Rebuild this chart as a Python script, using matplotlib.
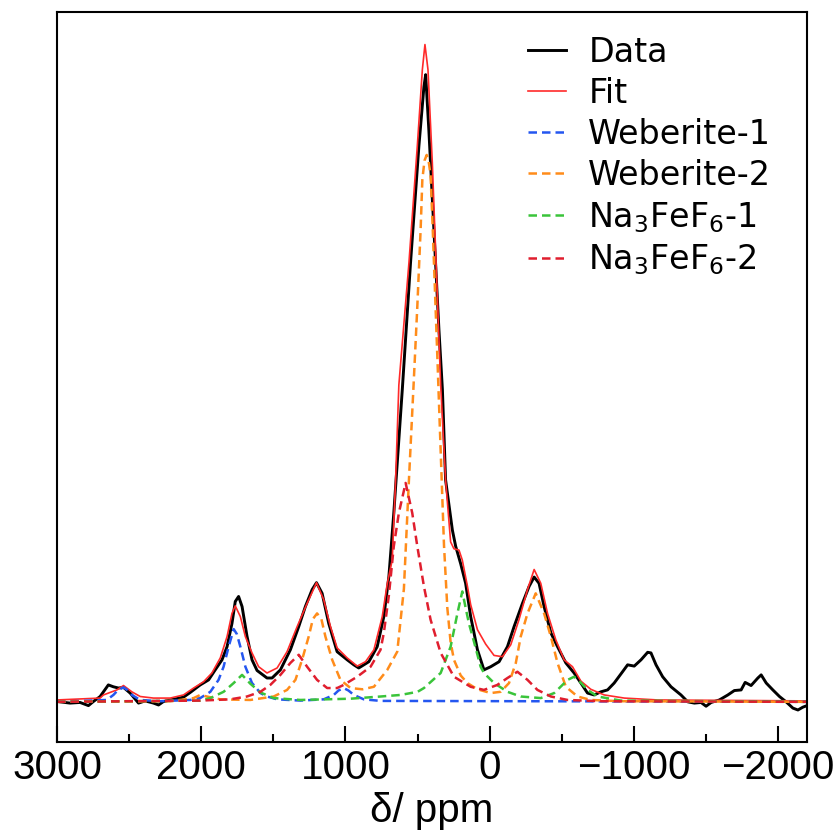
import matplotlib
matplotlib.use("Agg")
import matplotlib.pyplot as plt

# spectrum: shift in ppm, intensity scaled so the main data peak = 100
data_ppm = [3000, 2979, 2910, 2840, 2782, 2748, 2701, 2644, 2609, 2574,
            2539, 2493, 2435, 2389, 2331, 2296, 2262, 2192, 2123, 2076,
            2007, 1949, 1903, 1856, 1821, 1787, 1764, 1741, 1717, 1683,
            1648, 1613, 1544, 1509, 1451, 1382, 1324, 1278, 1231, 1201,
            1162, 1116, 1058, 988, 942, 908, 838, 780, 734, 699,
            665, 606, 549, 491, 456, 444, 422, 387, 352, 328,
            306, 259, 236, 201, 167, 132, 85, 40, -7, -65,
            -123, -169, -227, -273, -308, -342, -377, -424, -470, -528,
            -585, -632, -678, -724, -771, -817, -863, -921, -956, -1002,
            -1049, -1095, -1118, -1153, -1199, -1257, -1326, -1373, -1419, -1465,
            -1500, -1535, -1592, -1651, -1696, -1743, -1771, -1812, -1859, -1882,
            -1917, -1963, -2009, -2055, -2102, -2137, -2171, -2200]
data_int = [0.1, 0, -0.2, -0.1, -0.6, 0.05, 0.85, 2.7, 2.4, 2.2,
            2.3, 1.4, -0.2, 0.15, -0.2, -0.5, 0.05, 0.4, 0.75, 1.5,
            2.7, 3.5, 5.1, 6.7, 8.8, 12.5, 16.0, 16.8, 15.2, 10.5,
            6.7, 5.0, 3.8, 3.8, 5.1, 8.3, 12.0, 15.2, 17.9, 19.0,
            17.3, 12.5, 8.0, 6.7, 5.9, 5.4, 6.4, 8.8, 13.6, 20.0,
            30.1, 49.8, 70.0, 88.6, 98.1, 100.0, 91.2, 75.3, 59.3, 49.8,
            35.4, 27.4, 24.8, 22.0, 18.9, 13.6, 8.3, 5.1, 5.6, 6.4,
            8.8, 12.0, 15.7, 18.4, 19.9, 18.9, 15.2, 11.0, 8.8, 6.2,
            4.6, 3.0, 1.4, 1.1, 1.6, 1.9, 3.0, 4.8, 5.9, 5.7,
            6.7, 7.9, 7.8, 5.9, 4.0, 2.4, 1.1, 0, -0.2, -0.1,
            -0.7, -0.1, 0.3, 1.1, 1.8, 1.9, 3.1, 2.6, 3.8, 4.3,
            3.0, 1.9, 0.85, 0, -1.0, -1.3, -0.85, -0.6]

fit_ppm = [3000, 2701, 2678, 2585, 2539, 2481, 2423, 2331, 2215, 2123,
           2053, 1984, 1926, 1868, 1821, 1787, 1764, 1729, 1694, 1648,
           1602, 1544, 1474, 1405, 1335, 1266, 1201, 1151, 1104, 1058,
           988, 919, 861, 803, 745, 710, 676, 653, 630, 560,
           502, 467, 449, 428, 398, 363, 340, 306, 271, 248,
           213, 190, 155, 132, 85, 28, -30, -88, -146, -203,
           -262, -308, -354, -401, -458, -516, -574, -632, -701, -794,
           -933, -1165, -2200]
fit_int = [0.3, 0.6, 1.1, 1.9, 2.6, 1.6, 0.85, 0.6, 0.6, 1.1,
           2.2, 3.2, 4.6, 7.0, 10.4, 14.1, 15.3, 13.6, 10.4, 7.8,
           5.6, 4.6, 5.4, 8.0, 12.0, 15.7, 19.0, 16.3, 12.0, 8.6,
           7.0, 5.7, 6.4, 8.3, 13.6, 18.9, 22.6, 35.0, 50.5, 70.0,
           88.6, 100.8, 104.8, 100.8, 86.0, 64.6, 50.5, 35.4, 25.5, 24.4,
           24.2, 22.6, 18.5, 15.5, 11.5, 9.2, 7.4, 7.2, 9.1, 13.1,
           17.9, 21.1, 18.9, 14.1, 9.9, 6.7, 5.6, 3.3, 2.0, 1.1,
           0.6, 0.3, 0.15]

web1_ppm = [3000, 2655, 2609, 2576, 2539, 2513, 2481, 2423, 2285, 2076,
            2007, 1937, 1880, 1845, 1810, 1775, 1753, 1729, 1694, 1648,
            1625, 1590, 1544, 1474, 1312, 1151, 1081, 1049, 1012, 979,
            942, 873, 757, -2200]
web1_int = [0, 0.3, 1.1, 1.9, 2.3, 1.9, 1.1, 0.3, 0.1, 0.3,
            0.6, 1.6, 3.5, 5.6, 8.8, 11.6, 10.8, 8.8, 5.6, 3.0,
            2.4, 1.4, 0.85, 0.4, 0.2, 0.4, 1.1, 1.8, 2.2, 1.8,
            1.1, 0.4, 0.15, 0]

web2_ppm = [3000, 2215, 2111, 2053, 2007, 1951, 1868, 1660, 1498, 1405,
            1347, 1301, 1255, 1226, 1197, 1167, 1139, 1092, 1035, 965,
            882, 803, 710, 641, 595, 560, 526, 502, 479, 467,
            452, 437, 424, 410, 396, 363, 340, 317, 294, 271,
            248, 201, 155, 85, -7, -76, -134, -181, -215, -262,
            -319, -377, -424, -470, -528, -609, -701, -910, -2200]
web2_int = [0, 0.1, 0.4, 0.6, 1.1, 0.8, 0.4, 0.3, 0.85, 1.9,
            3.5, 6.7, 10.4, 13.2, 14.1, 13.2, 10.4, 6.7, 3.5, 2.2,
            2.0, 2.4, 5.1, 8.0, 18.0, 35.4, 51.4, 63.0, 75.3, 83.3,
            86.3, 87.2, 86.3, 84.0, 76.0, 55.0, 40.0, 25.0, 15.0, 9.5,
            6.7, 4.2, 3.0, 2.0, 1.4, 1.6, 3.0, 6.2, 10.4, 14.1,
            17.3, 14.1, 10.4, 6.2, 2.4, 0.85, 0.3, 0.1, 0]

na1_ppm = [3000, 2007, 1937, 1845, 1775, 1717, 1660, 1590, 1498, 1312,
           965, 757, 618, 500, 456, 340, 271, 224, 190, 167,
           144, 108, 85, 63, 40, -30, -123, -215, -354, -447,
           -540, -585, -618, -678, -748, -910, -2200]
na1_int = [0, 0.2, 0.6, 1.6, 3.0, 4.3, 2.9, 1.5, 0.6, 0.3,
           0.5, 0.85, 1.1, 1.6, 2.2, 4.6, 8.8, 14.1, 17.6, 15.0,
           12.5, 9.5, 7.5, 5.6, 4.6, 3.0, 1.6, 0.85, 0.6, 1.4,
           3.5, 4.0, 3.4, 1.9, 0.85, 0.2, 0]

na2_ppm = [3000, 2007, 1799, 1683, 1590, 1521, 1451, 1382, 1324, 1266,
           1197, 1127, 1058, 1012, 919, 826, 757, 734, 699, 665,
           630, 583, 537, 502, 456, 410, 340, 248, 132, 40,
           -53, -123, -192, -262, -331, -424, -540, -771, -2200]
na2_int = [0, 0.2, 0.4, 0.85, 1.6, 2.7, 4.3, 6.2, 7.5, 5.6,
           3.5, 2.2, 2.2, 2.7, 4.0, 5.6, 8.3, 11.0, 17.0, 24.8,
           30.1, 34.9, 30.1, 24.8, 18.4, 13.1, 7.8, 4.0, 2.4, 1.9,
           2.7, 3.8, 4.8, 3.5, 1.9, 0.85, 0.3, 0.1, 0]

labels = ["Data", "Fit", "Weberite-1", "Weberite-2",
          "Na$_3$FeF$_6$-1", "Na$_3$FeF$_6$-2"]

fig = plt.figure(figsize=(8.37, 8.35), dpi=100)
ax = fig.add_axes([0.0681, 0.1114, 0.8961, 0.8743])

dash = (0, (3.4, 2.0))
ax.plot(data_ppm, data_int, color="black", lw=2.1, label=labels[0])
ax.plot(fit_ppm, fit_int, color="#ff2a2a", lw=1.2, label=labels[1])
ax.plot(web1_ppm, web1_int, color="#2456f0", lw=1.8, ls=dash, label=labels[2])
ax.plot(web2_ppm, web2_int, color="#ff8c1a", lw=1.8, ls=dash, label=labels[3])
ax.plot(na1_ppm, na1_int, color="#3ac43a", lw=1.8, ls=dash, label=labels[4])
ax.plot(na2_ppm, na2_int, color="#e01e2e", lw=1.8, ls=dash, label=labels[5])

ax.set_xlim(3000, -2200)
ax.set_ylim(-6.4, 110)
ax.set_xticks([3000, 2000, 1000, 0, -1000, -2000])
ax.set_xticks([2500, 1500, 500, -500, -1500], minor=True)
ax.set_yticks([])
ax.tick_params(axis="x", which="major", direction="in", length=11.5, width=1.5,
               pad=5, labelsize=29)
ax.tick_params(axis="x", which="minor", direction="in", length=5.8, width=1.5)
for lab in ax.get_xticklabels():
    lab.set_family("Liberation Sans")
for sp in ax.spines.values():
    sp.set_linewidth(1.5)

ax.set_xlabel("δ/ ppm", fontsize=29, family="Liberation Sans", labelpad=4)

ax.legend(loc="upper left", bbox_to_anchor=(0.628, 0.967), frameon=False,
          fontsize=24, borderpad=0, borderaxespad=0, handlelength=1.15,
          handletextpad=0.66, labelspacing=0.24)

fig.savefig("out.png", dpi=100)
